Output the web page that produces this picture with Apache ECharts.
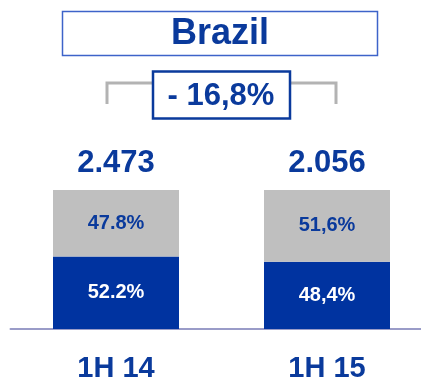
<!DOCTYPE html>
<html>
<head>
<meta charset="utf-8">
<script src="https://cdn.jsdelivr.net/npm/echarts@6/dist/echarts.min.js"></script>
<style>
  html, body { margin: 0; padding: 0; background: #ffffff; }
  #chart { width: 421px; height: 380px; }
</style>
</head>
<body>
<div id="chart"></div>
<script>
// Half-year periods
const categories = ['1H 14', '1H 15'];
// Share of the total (percent), bottom segment
const shareBlue = [52.2, 48.4];
const shareBlueLabels = ['52.2%', '48,4%'];
// Share of the total (percent), top segment
const shareGray = [47.8, 51.6];
const shareGrayLabels = ['47.8%', '51,6%'];
// Totals shown above each bar
const totalLabels = ['2.473', '2.056'];
// Change between periods
const changeLabel = '- 16,8%';
const titleText = 'Brazil';

const FONT = '"Liberation Sans", Arial, sans-serif';
const BLUE = '#0033a0';
const TEXT_BLUE = '#0a3a9c';
const GRAY = '#bfbfbf';

const chart = echarts.init(document.getElementById('chart'), null, { renderer: 'canvas' });

chart.setOption({
  animation: false,
  backgroundColor: '#ffffff',
  grid: {
    left: 10.5, right: -11.5, top: 190, bottom: 51,
    containLabel: false,
    outerBoundsMode: 'none'
  },
  xAxis: {
    type: 'category',
    data: categories,
    axisTick: { show: false },
    axisLine: { show: true, lineStyle: { color: '#9a9cc8', width: 2 } },
    axisLabel: {
      margin: 25,
      color: TEXT_BLUE,
      fontFamily: FONT,
      fontWeight: 'bold',
      fontSize: 29
    }
  },
  yAxis: { type: 'value', min: 0, max: 100, show: false },
  series: [
    {
      type: 'bar',
      stack: 'share',
      barWidth: 126,
      data: shareBlue,
      itemStyle: { color: BLUE },
      label: {
        show: true,
        position: 'inside',
        color: '#ffffff',
        fontFamily: FONT,
        fontWeight: 'bold',
        fontSize: 20,
        formatter: p => shareBlueLabels[p.dataIndex]
      }
    },
    {
      type: 'bar',
      stack: 'share',
      barWidth: 126,
      data: shareGray,
      itemStyle: { color: GRAY },
      label: {
        show: true,
        position: 'inside',
        color: TEXT_BLUE,
        fontFamily: FONT,
        fontWeight: 'bold',
        fontSize: 20,
        formatter: p => shareGrayLabels[p.dataIndex]
      }
    },
    {
      // zero-height cap carrying the total label
      type: 'bar',
      stack: 'share',
      barWidth: 126,
      data: categories.map(() => 0),
      itemStyle: { color: 'transparent' },
      label: {
        show: true,
        position: 'top',
        distance: 11,
        color: TEXT_BLUE,
        fontFamily: FONT,
        fontWeight: 'bold',
        fontSize: 31,
        formatter: p => totalLabels[p.dataIndex]
      }
    }
  ],
  graphic: [
    {
      type: 'rect',
      shape: { x: 62.5, y: 11.5, width: 315, height: 44 },
      style: { fill: '#ffffff', stroke: '#3d63c9', lineWidth: 1.5 }
    },
    {
      type: 'text',
      x: 220,
      y: 34,
      style: {
        text: titleText,
        fill: TEXT_BLUE,
        font: 'bold 36px ' + FONT,
        align: 'center',
        verticalAlign: 'middle'
      }
    },
    {
      type: 'polyline',
      shape: { points: [[107, 104], [107, 83], [336, 83], [336, 104]] },
      style: { stroke: '#b3b3b3', lineWidth: 3, fill: null }
    },
    {
      type: 'rect',
      shape: { x: 153, y: 71.5, width: 137, height: 47 },
      style: { fill: '#ffffff', stroke: '#0a3a9c', lineWidth: 2.5 }
    },
    {
      type: 'text',
      x: 221,
      y: 96,
      style: {
        text: changeLabel,
        fill: TEXT_BLUE,
        font: 'bold 31px ' + FONT,
        align: 'center',
        verticalAlign: 'middle'
      }
    }
  ]
});
</script>
</body>
</html>
